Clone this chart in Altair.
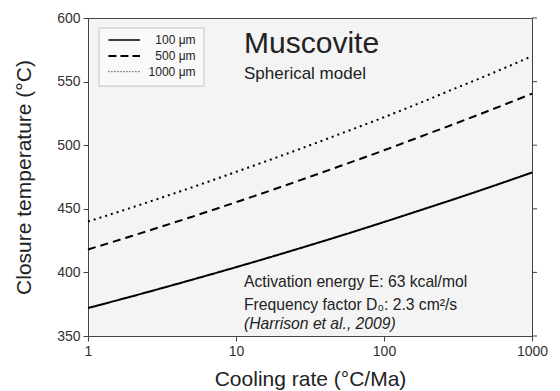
import altair as alt
import pandas as pd

# ---- data ----
rates = [1, 2, 3, 5, 10, 20, 30, 50, 100, 200, 300, 500, 1000]
t_100um = [372.0, 381.3, 386.9, 394.1, 404.1, 414.4, 420.6, 428.5, 439.6, 451.0, 457.7, 466.4, 478.5]
t_500um = [418.0, 428.8, 435.3, 443.6, 455.2, 467.1, 474.3, 483.4, 496.0, 509.1, 516.8, 526.7, 540.5]
t_1000um = [440.0, 451.2, 458.0, 466.7, 479.0, 491.5, 499.0, 508.7, 522.0, 536.0, 544.5, 555.0, 570.0]

series_names = ["100 μm", "500 μm", "1000 μm"]
series_values = [t_100um, t_500um, t_1000um]

x_ticks = [1, 10, 100, 1000]
y_ticks = [350, 400, 450, 500, 550, 600]

# legend placement in data coordinates
legend_row_temp = [582.7, 570.1, 557.8]
legend_line_rate = [1.374, 2.246]
legend_label_rate = 5.33
legend_box_rate = [1.187, 6.08]
legend_box_temp = [546.5, 592.1]

# annotations
title_text = ["Muscovite", "Spherical model"]
title_rate = 11.33
title_temp = [572.5, 552.0]
info_text = ["Activation energy E: 63 kcal/mol",
             "Frequency factor D\u2080: 2.3 cm\u00b2/s",
             "(Harrison et al., 2009)"]
info_temp = [388.5, 370.4, 355.5]

# ---- styles ----
line_dash = [[1, 0], [8, 5], [2, 4]]
line_width = [2, 2, 2]
leg_dash = [[1, 0], [8, 4], [1, 2]]
leg_width = [1.3, 2, 1]
INK = "#222222"
AX = "#444444"

xscale = alt.Scale(type="log", domain=[1, 1000], nice=False)
yscale = alt.Scale(domain=[350, 600], nice=False, zero=False)


def xq(field):
    return alt.X(field, type="quantitative", scale=xscale)


def yq(field):
    return alt.Y(field, type="quantitative", scale=yscale)


layers = []

# axis layer (invisible points carry the explicit axis settings)
axis_df = pd.DataFrame({"rate": rates, "temp": t_100um})
layers.append(alt.Chart(axis_df).mark_point(opacity=0).encode(
    x=alt.X("rate:Q", scale=xscale, axis=alt.Axis(
        orient="bottom", values=x_ticks, format="d", tickSize=5, labelPadding=3,
        labelFontSize=14, labelColor="#333", domainColor=AX, tickColor=AX,
        labelFlush=False,
        title="Cooling rate (°C/Ma)", titleFontSize=21, titleFontWeight="normal",
        titleColor=INK, titlePadding=10, grid=False)),
    y=alt.Y("temp:Q", scale=yscale, axis=alt.Axis(
        orient="left", values=y_ticks, tickSize=5, labelPadding=3,
        labelFontSize=14, labelColor="#333", domainColor=AX, tickColor=AX,
        labelFlush=False,
        title="Closure temperature (°C)", titleFontSize=21, titleFontWeight="normal",
        titleColor=INK, titlePadding=22, grid=False))))

# legend box
box_df = pd.DataFrame({"r1": [legend_box_rate[0]], "r2": [legend_box_rate[1]],
                       "t1": [legend_box_temp[0]], "t2": [legend_box_temp[1]]})
layers.append(alt.Chart(box_df).mark_rect(fill="#f9f9f9", stroke="#c4c4c4", strokeWidth=1).encode(
    x=xq("r1"), x2="r2", y=yq("t1"), y2="t2"))

# curves
for i, vals in enumerate(series_values):
    df = pd.DataFrame({"rate": rates, "temp": vals})
    layers.append(alt.Chart(df).mark_line(
        color="black", strokeWidth=line_width[i], strokeDash=line_dash[i],
        interpolate="monotone").encode(x=xq("rate"), y=yq("temp")))

# right-side ticks (mirror of the y axis)
rt_df = pd.DataFrame({"r": [1000] * len(y_ticks), "t": y_ticks})
layers.append(alt.Chart(rt_df).mark_rule(color=AX, strokeWidth=1, x2Offset=5).encode(
    x=xq("r"), x2="r", y=yq("t")))

# legend rows
for i, name in enumerate(series_names):
    rdf = pd.DataFrame({"r1": [legend_line_rate[0]], "r2": [legend_line_rate[1]],
                        "t": [legend_row_temp[i]]})
    layers.append(alt.Chart(rdf).mark_rule(
        color="black", strokeWidth=leg_width[i], strokeDash=leg_dash[i]).encode(
        x=xq("r1"), x2="r2", y=yq("t")))
    tdf = pd.DataFrame({"r": [legend_label_rate], "t": [legend_row_temp[i]], "label": [name]})
    layers.append(alt.Chart(tdf).mark_text(
        align="right", baseline="middle", fontSize=12, color=INK).encode(
        x=xq("r"), y=yq("t"), text="label:N"))

# titles inside plot
for txt, tt, fs in zip(title_text, title_temp, [30, 17]):
    adf = pd.DataFrame({"r": [title_rate], "t": [tt], "label": [txt]})
    layers.append(alt.Chart(adf).mark_text(
        align="left", baseline="alphabetic", fontSize=fs, color=INK).encode(
        x=xq("r"), y=yq("t"), text="label:N"))

for j, (txt, tt) in enumerate(zip(info_text, info_temp)):
    adf = pd.DataFrame({"r": [title_rate], "t": [tt], "label": [txt]})
    kw = dict(align="left", baseline="alphabetic", fontSize=15.7, color=INK)
    if j == 2:
        kw["fontStyle"] = "italic"
    layers.append(alt.Chart(adf).mark_text(**kw).encode(
        x=xq("r"), y=yq("t"), text="label:N"))

chart = alt.layer(*layers).properties(
    width=444, height=318,
    autosize=alt.AutoSizeParams(type="none"),
    padding={"left": 88, "top": 18, "right": 28, "bottom": 55},
    background="white",
).configure(font="Liberation Sans").configure_view(
    fill="#f4f4f4", stroke=AX, strokeWidth=1)

chart.save("out.html", embed_options={"renderer": "svg", "actions": False})
